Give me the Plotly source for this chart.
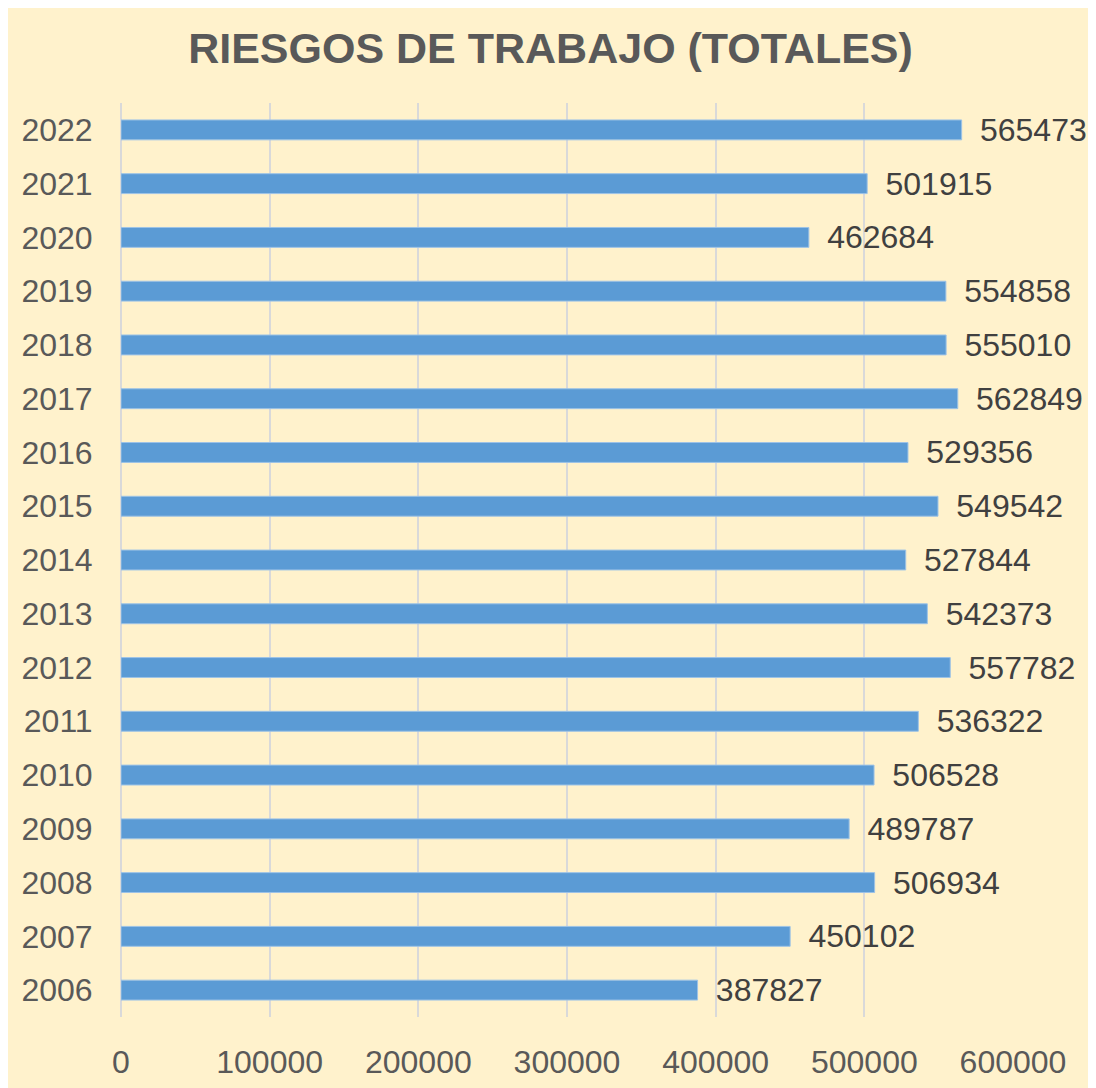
import plotly.graph_objects as go

years = ["2006", "2007", "2008", "2009", "2010", "2011", "2012", "2013", "2014",
         "2015", "2016", "2017", "2018", "2019", "2020", "2021", "2022"]
totals = [387827, 450102, 506934, 489787, 506528, 536322, 557782, 542373, 527844,
          549542, 529356, 562849, 555010, 554858, 462684, 501915, 565473]
x_ticks = [0, 100000, 200000, 300000, 400000, 500000, 600000]

bg = "#FFF2CC"
fig = go.Figure(go.Bar(
    x=totals, y=years, orientation="h",
    marker=dict(color="#5B9BD5", line=dict(color="#9DC3E6", width=1)),
    width=0.37,
    text=["\u00a0\u2009" + str(v) for v in totals], textposition="outside",
    textfont=dict(family="Liberation Sans, Arial", size=32, color="#404040"),
    cliponaxis=False, constraintext="none",
))

fig.update_layout(
    width=1096, height=1088,
    paper_bgcolor=bg, plot_bgcolor=bg,
    margin=dict(l=113, r=91, t=95, b=79),
    title=dict(text="<b>RIESGOS DE TRABAJO (TOTALES)</b>", x=0.495, xanchor="center",
               y=0.963, yanchor="middle",
               font=dict(family="Liberation Sans, Arial", size=43, color="#595959")),
    font=dict(family="Liberation Sans, Arial", size=32, color="#595959"),
    showlegend=False,
)
fig.update_xaxes(range=[0, 600000], tickvals=x_ticks, ticktext=[str(v) for v in x_ticks],
                 showgrid=True, gridcolor="#D9D9D9", gridwidth=2, zeroline=True,
                 zerolinecolor="#D9D9D9", zerolinewidth=2, showline=False,
                 ticks="outside", ticklen=17, tickcolor="rgba(0,0,0,0)",
                 tickfont=dict(size=32, color="#595959"))
fig.update_yaxes(type="category", categoryorder="array", categoryarray=years,
                 showgrid=False, showline=False, ticks="outside", ticklen=21,
                 tickcolor="rgba(0,0,0,0)", tickfont=dict(size=32, color="#595959"))

fig.write_html("out.html")
